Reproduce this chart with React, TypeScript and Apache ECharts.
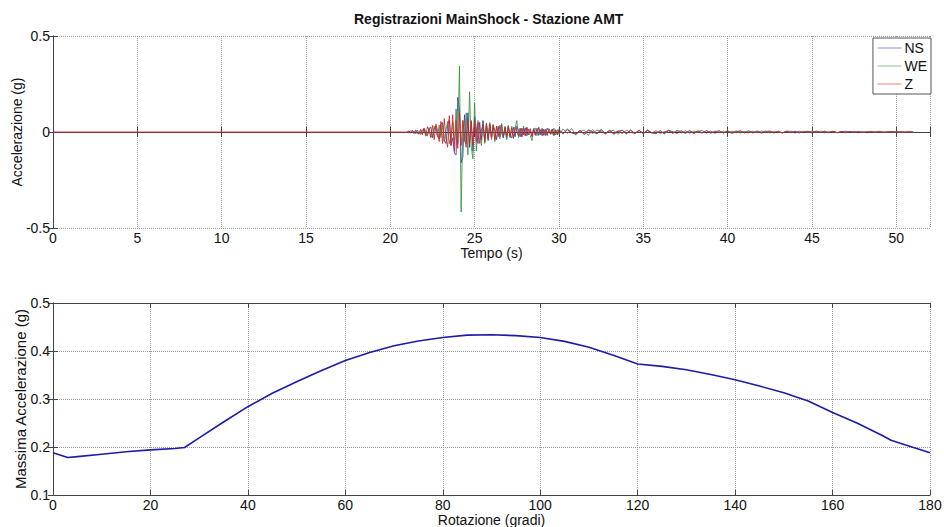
import React, { useEffect, useRef } from "react";
import * as echarts from "echarts";

const TITLE = "Registrazioni MainShock - Stazione AMT";
const TOP_X_NAME = "Tempo (s)";
const TOP_Y_NAME = "Accelerazione (g)";
const BOT_X_NAME = "Rotazione (gradi)";
const BOT_Y_NAME = "Massima Accelerazione (g)";
const SERIES_NAMES = ["NS", "WE", "Z"];
const SERIES_COLORS = ["#2b2bcc", "#2e8e2e", "#e8161a"];

// sampling grid of the accelerograms (seconds)
const T_START = 0;
const T_EARLY_START = 21.0;
const T_EARLY_STEP = 0.1;
const T_LATE_START = 30.0;
const T_LATE_STEP = 0.25;

// NS component, 21.0 .. 29.9 s every 0.1 s
const NS_EARLY = [
  0, 0.003, -0.005, 0.006, 0.002, -0.008, 0.009, -0.004, -0.012, 0.01,
  0.016, -0.012, -0.02, 0.018, 0.025, -0.03, 0.012, 0.032, -0.022, -0.035,
  0.04, 0.05, -0.045, -0.06, 0.035, 0.065, -0.07, -0.03, -0.11, -0.12,
  0.18, 0.12, -0.16, -0.13, 0.09, -0.06, 0.1, -0.08, 0.06, -0.1,
  0.08, 0.02, -0.06, 0.05, -0.04, 0.06, -0.05, 0.035, -0.045, 0.04,
  -0.03, 0.035, 0.01, -0.04, 0.03, -0.025, 0.04, -0.03, 0.02, -0.035,
  0.03, -0.02, -0.03, 0.025, -0.025, 0.03, 0.01, -0.025, 0.02, -0.015,
  0.022, -0.02, 0.015, 0.005, -0.025, 0.018, -0.015, 0.02, -0.018, 0.012,
  -0.02, 0.015, -0.018, 0.02, 0.004, -0.012, 0.016, -0.02, 0.012, -0.015,
];
// NS component, 30.0 .. 51.0 s every 0.25 s
const NS_LATE = [
  0.013, -0.01, 0.016, -0.004, -0.012, 0.009, -0.014, 0.011, 0.002, -0.01, 0.012, -0.008, 0.01, -0.012, 0.004, 0.009, -0.01, 0.008, -0.006, 0.009,
  -0.008, 0.01, -0.004, -0.009, 0.007, -0.008, 0.009, 0.002, -0.008, 0.007, -0.006, 0.008, -0.007, 0.003, 0.007, -0.006, 0.005, -0.007, 0.006, -0.005,
  0.006, -0.007, 0.002, 0.006, -0.005, 0.006, -0.004, 0.005, -0.006, 0.002, 0.005, -0.005, 0.004, -0.005, 0.003, 0.004, -0.005, 0.004, -0.003, 0.004,
  -0.004, 0.005, -0.002, 0.004, -0.004, 0.003, -0.004, 0.001, 0.004, -0.003, 0.004, -0.003, 0.002, -0.004, 0.003, -0.002, 0.003, -0.003, 0.001, 0.003,
  -0.002, 0.002, -0.002, 0.001, 0,
];

const WE_EARLY = [
  0, -0.004, 0.006, 0.002, -0.008, 0.007, -0.01, -0.003, 0.012, -0.01,
  0.018, 0.006, -0.016, 0.022, -0.02, -0.028, 0.03, 0.01, -0.025, 0.036,
  -0.03, 0.04, -0.05, 0.01, 0.055, -0.06, -0.02, 0.05, -0.065, 0.12,
  -0.06, 0.344, -0.417, 0.06, -0.05, 0.1, -0.12, 0.21, -0.08, -0.14,
  0.15, -0.1, 0.06, 0.01, -0.07, 0.05, -0.06, 0.045, -0.03, 0.05,
  -0.04, 0.04, -0.05, 0.03, 0.005, -0.035, 0.045, -0.025, 0.03, -0.04,
  0.035, -0.03, 0.03, -0.035, 0.02, 0.06, -0.03, 0.02, -0.025, 0.03,
  -0.02, 0.025, -0.005, -0.018, -0.045, 0.015, 0.02, -0.02, 0.025, -0.015,
  0.02, -0.018, 0.015, -0.02, 0.018, 0.004, -0.012, 0.02, -0.015, 0.012,
];
const WE_LATE = [
  -0.012, 0.016, -0.008, 0.018, -0.014, 0.003, 0.01, -0.018, 0.013, -0.01, 0.015, -0.011, 0.004, 0.009, -0.013, 0.01, -0.008, 0.012, -0.01, 0.008,
  -0.009, 0.01, -0.003, -0.008, 0.007, -0.01, 0.008, -0.006, 0.009, 0.002, -0.007, 0.006, -0.008, 0.007, -0.005, 0.008, -0.006, 0.002, 0.006, -0.005,
  0.006, -0.005, 0.007, -0.006, 0.002, 0.005, -0.006, 0.005, -0.004, 0.006, -0.005, 0.004, -0.002, -0.004, 0.005, -0.004, 0.003, -0.005, 0.004, -0.003,
  0.004, -0.003, 0.004, -0.004, 0.001, 0.004, -0.003, 0.003, -0.004, 0.003, -0.002, 0.003, -0.003, 0.001, 0.003, -0.002, 0.003, -0.003, 0.002, -0.002,
  0.002, -0.002, 0.001, -0.001, 0,
];

const Z_EARLY = [
  0, 0.005, -0.003, 0.008, -0.007, 0.01, 0.002, -0.012, 0.013, -0.015,
  0.02, -0.022, 0.028, 0.008, -0.03, 0.035, -0.04, 0.042, 0.01, -0.05,
  0.055, -0.06, 0.07, -0.03, -0.08, 0.085, -0.07, 0.09, -0.1, 0.06,
  -0.085, 0.1, -0.07, 0.06, -0.02, -0.08, 0.07, -0.06, 0.05, -0.07,
  0.06, -0.05, 0.05, -0.06, 0.01, 0.04, -0.05, 0.045, -0.035, 0.04,
  -0.03, 0.035, -0.04, 0.03, -0.025, 0.035, -0.005, -0.03, 0.025, -0.02,
  0.03, -0.025, 0.02, -0.03, 0.025, 0.004, -0.02, 0.018, -0.025, 0.02,
  -0.018, 0.022, -0.015, 0.018, -0.02, 0.015, -0.018, 0.003, 0.02, -0.012,
  0.015, -0.016, 0.012, -0.015, 0.014, -0.01, 0.012, -0.015, 0.01, -0.012,
];
const Z_LATE = [
  0.011, -0.009, 0.012, -0.003, -0.01, 0.009, -0.011, 0.009, -0.008, 0.01, 0.002, -0.009, 0.008, -0.009, 0.007, -0.008, 0.009, -0.002, -0.007, 0.008,
  -0.007, 0.008, -0.006, 0.007, -0.007, 0.002, 0.006, -0.007, 0.006, -0.005, 0.006, -0.006, 0.005, -0.002, -0.005, 0.006, -0.005, 0.005, -0.004, 0.005,
  -0.005, 0.004, -0.004, 0.005, -0.001, -0.004, 0.004, -0.004, 0.005, -0.003, 0.004, -0.004, 0.003, -0.004, 0.003, -0.003, 0.004, -0.003, 0.001, 0.003,
  -0.003, 0.003, -0.003, 0.003, -0.002, 0.003, -0.003, 0.002, -0.002, 0.003, -0.002, 0.002, -0.002, 0.002, -0.002, 0.002, -0.001, 0.002, -0.002, 0.002,
  -0.001, 0.001, -0.001, 0.001, 0,
];

// bottom plot: peak acceleration vs rotation angle
const ROTATION = [0, 3, 5, 10, 15, 20, 25, 27, 30, 35, 40, 45, 50, 55, 60, 65, 70, 75, 80, 85, 90, 95, 100, 105, 110, 115, 120, 125, 130, 135, 140, 145, 150, 155, 160, 165, 170, 172, 175, 180];
const MAX_ACC = [0.188, 0.178, 0.18, 0.185, 0.19, 0.194, 0.197, 0.199, 0.219, 0.252, 0.284, 0.312, 0.336, 0.359, 0.38, 0.397, 0.411, 0.421, 0.428, 0.433, 0.434, 0.432, 0.428, 0.42, 0.408, 0.391, 0.373, 0.368, 0.361, 0.351, 0.34, 0.327, 0.313, 0.296, 0.272, 0.25, 0.225, 0.214, 0.204, 0.188];

const TOP_X_TICKS = [0, 5, 10, 15, 20, 25, 30, 35, 40, 45, 50];

const FONT = "'Liberation Sans', Arial, sans-serif";

function buildTrace(early: number[], late: number[], withPreEvent: boolean) {
  const pts: number[][] = withPreEvent ? [[T_START, 0]] : [];
  early.forEach((v, i) => pts.push([Math.round((T_EARLY_START + i * T_EARLY_STEP) * 100) / 100, v]));
  late.forEach((v, j) => pts.push([Math.round((T_LATE_START + j * T_LATE_STEP) * 100) / 100, v]));
  return pts;
}

export default function App() {
  const ref = useRef<HTMLDivElement>(null);
  useEffect(() => {
    document.body.style.margin = "0";
    if (!ref.current) return;
    const chart = echarts.init(ref.current, undefined, { renderer: "svg" });
    const axisColor = "#444";
    const labelStyle = { color: "#111", fontSize: 14, fontFamily: FONT };
    const gridLine = { show: true, lineStyle: { color: "#9a9a9a", type: "dotted" as const, width: 1 } };
    const traces = [
      buildTrace(NS_EARLY, NS_LATE, false),
      buildTrace(WE_EARLY, WE_LATE, false),
      buildTrace(Z_EARLY, Z_LATE, true),
    ];

    const mainX = (grid: number, min: number, max: number, interval: number, name: string, gap: number, fmt?: (v: number) => string) => ({
      type: "value", gridIndex: grid, min, max, interval, position: "bottom",
      name, nameLocation: "middle", nameGap: gap,
      nameTextStyle: { color: "#111", fontSize: 14, fontFamily: FONT },
      axisLine: { show: true, lineStyle: { color: axisColor, width: 1 } },
      axisTick: { show: true, inside: true, length: 5, lineStyle: { color: axisColor } },
      axisLabel: { ...labelStyle, margin: 3, formatter: fmt },
      splitLine: gridLine,
    });
    const mirrorX = (grid: number, min: number, max: number, interval: number) => ({
      type: "value", gridIndex: grid, min, max, interval, position: "top",
      axisLine: { show: true, lineStyle: { color: axisColor, width: 1 } },
      axisTick: { show: true, inside: true, length: 5, lineStyle: { color: axisColor } },
      axisLabel: { show: false }, splitLine: { show: false },
    });
    const mainY = (grid: number, min: number, max: number, interval: number, name: string, gap: number, nameSize: number) => ({
      type: "value", gridIndex: grid, min, max, interval, position: "left",
      name, nameLocation: "middle", nameGap: gap, nameMoveOverlap: false,
      nameTextStyle: { color: "#111", fontSize: nameSize, fontFamily: FONT },
      axisLine: { show: true, lineStyle: { color: axisColor, width: 1 } },
      axisTick: { show: true, inside: true, length: 5, lineStyle: { color: axisColor } },
      axisLabel: { ...labelStyle, margin: 3 },
      splitLine: gridLine,
    });
    const mirrorY = (grid: number, min: number, max: number, interval: number) => ({
      type: "value", gridIndex: grid, min, max, interval, position: "right",
      axisLine: { show: true, lineStyle: { color: axisColor, width: 1 } },
      axisTick: { show: true, inside: true, length: 5, lineStyle: { color: axisColor } },
      axisLabel: { show: false }, splitLine: { show: false },
    });

    chart.setOption({
      animation: false,
      backgroundColor: "#fff",
      graphic: [
        {
          type: "text", left: 491 - 137, top: 12,
          style: { text: TITLE, fontSize: 14, fontWeight: "bold", fontFamily: FONT, fill: "#111" },
        },
      ],
      legend: {
        data: SERIES_NAMES,
        orient: "vertical",
        right: 13, top: 38,
        backgroundColor: "#fff",
        borderColor: "#555", borderWidth: 1,
        padding: [3, 4, 3, 4],
        itemGap: 4, itemWidth: 24, itemHeight: 15,
        itemStyle: { opacity: 0 },
        lineStyle: { width: 1, opacity: 0.55 },
        textStyle: { color: "#111", fontSize: 14, fontFamily: FONT, padding: [0, 0, 0, -2] },
        z: 10,
      },
      grid: [
        { left: 53, right: 14, top: 36, height: 192, containLabel: false, outerBoundsMode: "none" },
        { left: 53, right: 14, top: 303, height: 192, containLabel: false, outerBoundsMode: "none" },
      ],
      xAxis: [
        mainX(0, 0, 52, 5, TOP_X_NAME, 18, (v: number) => (TOP_X_TICKS.includes(v) ? String(v) : "")),
        mirrorX(0, 0, 52, 5),
        mainX(1, 0, 180, 20, BOT_X_NAME, 17),
        mirrorX(1, 0, 180, 20),
      ],
      yAxis: [
        mainY(0, -0.5, 0.5, 0.5, TOP_Y_NAME, 29, 14),
        mirrorY(0, -0.5, 0.5, 0.5),
        mainY(1, 0.1, 0.5, 0.1, BOT_Y_NAME, 25, 15),
        mirrorY(1, 0.1, 0.5, 0.1),
      ],
      series: [
        ...SERIES_NAMES.map((n, i) => ({
          name: n, type: "line", xAxisIndex: 0, yAxisIndex: 0,
          data: traces[i], showSymbol: false, symbol: "none",
          lineStyle: { color: SERIES_COLORS[i], width: 0.8 },
          itemStyle: { color: SERIES_COLORS[i] },
          z: 2 + i,
        })),
        {
          name: "Massima", type: "line", xAxisIndex: 2, yAxisIndex: 2,
          data: ROTATION.map((r, i) => [r, MAX_ACC[i]]),
          showSymbol: false, symbol: "none",
          lineStyle: { color: "#1c1ca6", width: 1.6 },
        },
      ],
    });
    return () => chart.dispose();
  }, []);
  return <div ref={ref} style={{ width: 944, height: 527 }} />;
}
